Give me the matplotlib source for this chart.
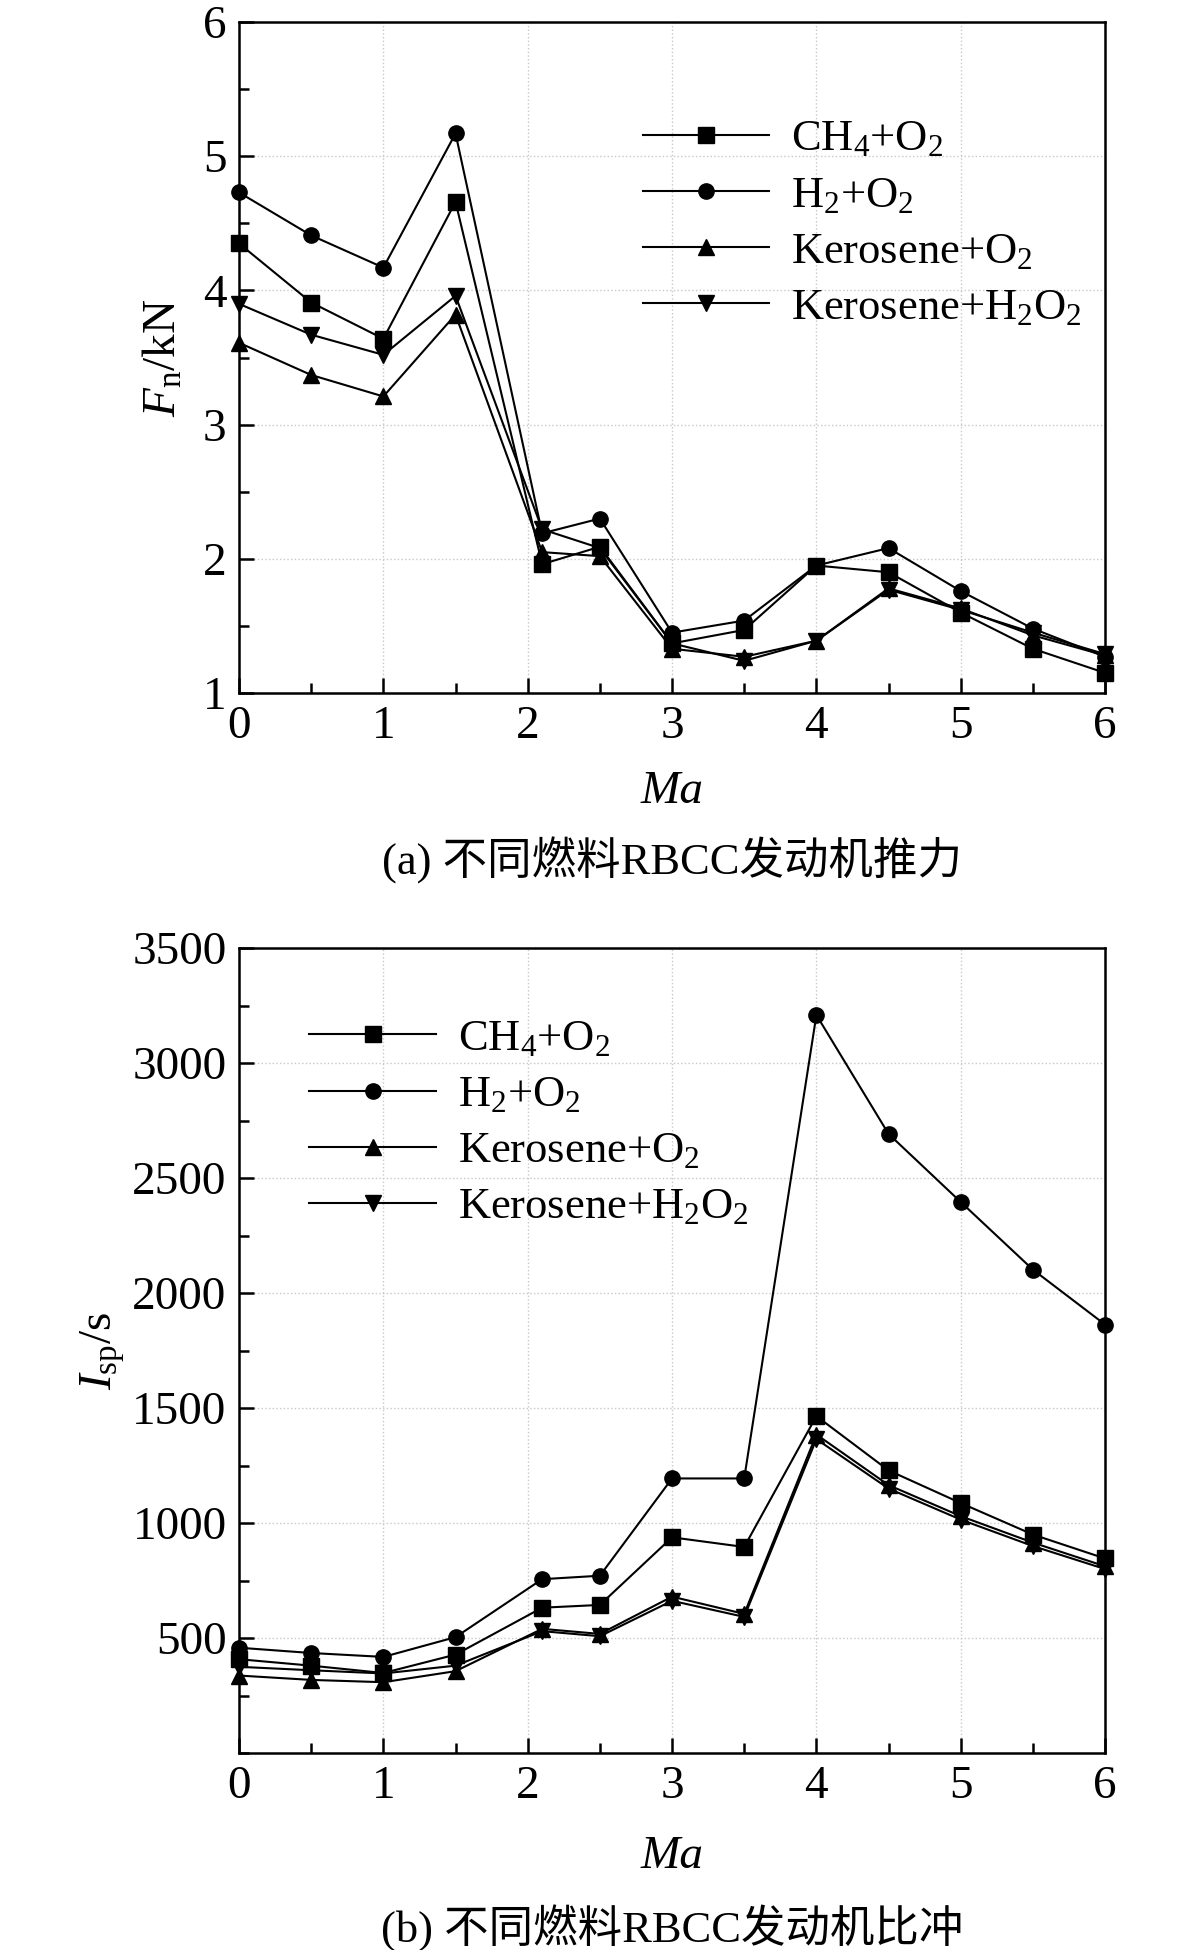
import matplotlib
matplotlib.use('Agg')
import matplotlib.pyplot as plt
from matplotlib.ticker import MultipleLocator, FixedLocator

plt.rcParams['font.family'] = ['Liberation Serif', 'Noto Sans CJK SC']
plt.rcParams['mathtext.fontset'] = 'custom'
plt.rcParams['mathtext.rm'] = 'Liberation Serif'
plt.rcParams['mathtext.it'] = 'Liberation Serif:italic'
plt.rcParams['mathtext.bf'] = 'Liberation Serif:bold'

# Mach numbers
ma = [0, 0.5, 1, 1.5, 2.1, 2.5, 3, 3.5, 4, 4.5, 5, 5.5, 6]

labels = [r'CH$_4$+O$_2$', r'H$_2$+O$_2$', r'Kerosene+O$_2$', r'Kerosene+H$_2$O$_2$']
markers = ['s', 'o', '^', 'v']

# thrust, kN
fn_ch4 = [4.35, 3.91, 3.64, 4.66, 1.96, 2.09, 1.37, 1.47, 1.95, 1.90, 1.60, 1.33, 1.15]
fn_h2 = [4.73, 4.41, 4.17, 5.17, 2.19, 2.30, 1.45, 1.54, 1.95, 2.08, 1.76, 1.48, 1.27]
fn_ker_o2 = [3.61, 3.37, 3.21, 3.82, 2.05, 2.02, 1.33, 1.27, 1.39, 1.78, 1.63, 1.43, 1.28]
fn_ker_h2o2 = [3.90, 3.67, 3.52, 3.96, 2.22, 2.08, 1.37, 1.24, 1.39, 1.77, 1.62, 1.45, 1.29]

# specific impulse, s
isp_ch4 = [408, 380, 348, 428, 632, 644, 938, 896, 1465, 1229, 1087, 950, 846]
isp_h2 = [458, 435, 418, 504, 756, 771, 1194, 1194, 3209, 2692, 2396, 2102, 1863]
isp_ker_o2 = [337, 318, 308, 356, 540, 518, 680, 605, 1385, 1165, 1030, 915, 812]
isp_ker_h2o2 = [375, 360, 346, 380, 530, 508, 662, 592, 1365, 1150, 1015, 900, 800]

TICK_FS = 34
LABEL_FS = 34
LEG_FS = 32
CAP_FS = 32

fig = plt.figure(figsize=(11.81, 19.50), dpi=100)
ax1 = fig.add_axes([0.2024, 0.6446, 0.7333, 0.3441])
ax2 = fig.add_axes([0.2024, 0.1010, 0.7333, 0.4128])


def style_axis(ax):
    for s in ax.spines.values():
        s.set_linewidth(1.8)
    ax.tick_params(which='both', direction='in', top=False, right=False,
                   width=1.8, labelsize=TICK_FS, pad=9)
    ax.tick_params(which='major', length=11)
    ax.tick_params(which='minor', length=7)
    ax.grid(True, which='major', color='#c8c8c8', linestyle=':', linewidth=1.0)
    ax.set_axisbelow(True)
    ax.set_xlim(0, 6)
    ax.xaxis.set_major_locator(MultipleLocator(1))
    ax.xaxis.set_minor_locator(MultipleLocator(0.5))


def draw_series(ax, series):
    for vals, lab, mk in zip(series, labels, markers):
        ax.plot(ma, vals, color='black', linewidth=1.5, marker=mk,
                markersize=11, label=lab, clip_on=False, zorder=3)


def add_legend(ax, anchor):
    ax.legend(loc='upper left', bbox_to_anchor=anchor, frameon=False,
              fontsize=LEG_FS, handlelength=2.85, handletextpad=0.5,
              labelspacing=0.36, borderpad=0, borderaxespad=0)


# (a) thrust
draw_series(ax1, [fn_ch4, fn_h2, fn_ker_o2, fn_ker_h2o2])
style_axis(ax1)
ax1.set_ylim(1, 6)
ax1.yaxis.set_major_locator(MultipleLocator(1))
ax1.yaxis.set_minor_locator(MultipleLocator(0.5))
ax1.set_xlabel('Ma', fontsize=LABEL_FS, style='italic', labelpad=16)
ax1.set_ylabel(r'$F_{\mathrm{n}}$/kN', fontsize=LABEL_FS, labelpad=12)
add_legend(ax1, (0.466, 0.855))

# (b) specific impulse
draw_series(ax2, [isp_ch4, isp_h2, isp_ker_o2, isp_ker_h2o2])
style_axis(ax2)
ax2.set_ylim(0, 3500)
ax2.yaxis.set_major_locator(FixedLocator([500, 1000, 1500, 2000, 2500, 3000, 3500]))
ax2.yaxis.set_minor_locator(MultipleLocator(250))
ax2.set_xlabel('Ma', fontsize=LABEL_FS, style='italic', labelpad=20)
ax2.set_ylabel(r'$I_{\mathrm{sp}}$/s', fontsize=LABEL_FS, labelpad=4)
add_legend(ax2, (0.081, 0.912))

fig.text(0.569, 1 - 860 / 1950, '(a) 不同燃料RBCC发动机推力', fontsize=CAP_FS,
         ha='center', va='center')
fig.text(0.569, 1 - 1928 / 1950, '(b) 不同燃料RBCC发动机比冲', fontsize=CAP_FS,
         ha='center', va='center')

fig.savefig('out.png', dpi=100, facecolor='white')
